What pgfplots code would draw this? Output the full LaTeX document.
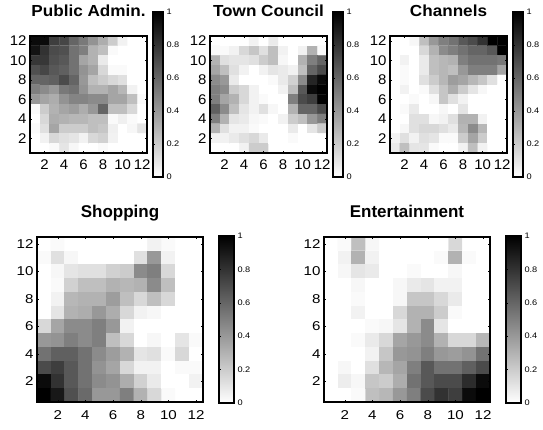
\documentclass[border=0pt]{standalone}
\usepackage{fontspec}
\setmainfont{Liberation Sans}
\newfontfamily\topfont[FakeStretch=1.07]{Liberation Sans}
\newfontfamily\botfont[FakeStretch=1.18]{Liberation Sans}
\newfontfamily\cbfont[FakeStretch=1.15]{Liberation Sans}
\usepackage{pgfplots}
\pgfplotsset{compat=1.18}
\pgfplotsset{
  hm/.style={scale only axis, anchor=south west,
    xmin=0.5,xmax=12.5,ymin=0.5,ymax=12.5, enlargelimits=false,
    xtick={2,4,...,12}, ytick={2,4,...,12},
    tick align=inside, major tick length=2pt, axis on top,
    axis line style={line width=1.1pt}, tick style={line width=0.5pt,black},
    colormap={rgray}{gray(0cm)=(1); gray(1cm)=(0)},
    point meta min=0, point meta max=1,
    /pgf/number format/assume math mode=true,
    colorbar, colorbar shift/.style={},
  },
  top/.style={hm, width=117pt, height=117pt,
    tick label style={font=\topfont\fontsize{14}{14}\selectfont},
    xticklabel style={yshift=-3pt},
    title style={at={(0.5,1)}, anchor=base, yshift=13pt, font=\topfont\bfseries\fontsize{16}{16}\selectfont},
    colorbar style={scale only axis, at={(parent axis.south east)}, anchor=south west,
      xshift=6pt, yshift=-24pt, width=10pt, height=165pt,
      ytick={0,0.2,...,1}, tick align=inside, major tick length=1.5pt,
      axis line style={line width=1.1pt},
      /pgf/number format/assume math mode=true,
      yticklabel style={font=\cbfont\fontsize{8}{8}\selectfont}},
  },
  bot/.style={hm, width=166pt, height=165pt,
    tick label style={font=\botfont\fontsize{12.8}{12.8}\selectfont},
    xticklabel style={yshift=-5pt},
    title style={at={(0.5,1)}, anchor=base, yshift=13pt, font=\bfseries\fontsize{17}{17}\selectfont},
    colorbar style={scale only axis, at={(parent axis.south east)}, anchor=south west,
      xshift=16pt, yshift=-1pt, width=15pt, height=167pt,
      ytick={0,0.2,...,1}, tick align=inside, major tick length=1.5pt,
      axis line style={line width=1.1pt},
      /pgf/number format/assume math mode=true,
      yticklabel style={font=\cbfont\fontsize{8}{8}\selectfont}},
  },
}
\begin{document}
\begin{tikzpicture}
\path[use as bounding box] (0,0) rectangle (543pt,430pt);
% Public Admin.
\begin{axis}[top, at={(30pt,277pt)}, title={Public Admin.}]
\addplot[matrix plot*, mesh/cols=12, point meta=\thisrow{c}] table[row sep=\\]{x y c\\
1 12 .95\\2 12 .95\\3 12 .75\\4 12 .72\\5 12 .6\\6 12 .52\\7 12 .42\\8 12 .32\\9 12 .2\\10 12 .05\\11 12 0\\12 12 0\\
1 11 .92\\2 11 .8\\3 11 .7\\4 11 .68\\5 11 .55\\6 11 .5\\7 11 .3\\8 11 .25\\9 11 .02\\10 11 0\\11 11 0\\12 11 0\\
1 10 .78\\2 10 .78\\3 10 .68\\4 10 .65\\5 10 .55\\6 10 .35\\7 10 .3\\8 10 .08\\9 10 0\\10 10 0\\11 10 0\\12 10 0\\
1 9 .68\\2 9 .72\\3 9 .65\\4 9 .62\\5 9 .55\\6 9 .42\\7 9 .35\\8 9 .15\\9 9 .02\\10 9 .02\\11 9 0\\12 9 0\\
1 8 .6\\2 8 .6\\3 8 .62\\4 8 .7\\5 8 .6\\6 8 .4\\7 8 .25\\8 8 .2\\9 8 .15\\10 8 .12\\11 8 0\\12 8 0\\
1 7 .5\\2 7 .45\\3 7 .4\\4 7 .52\\5 7 .55\\6 7 .42\\7 7 .3\\8 7 .3\\9 7 .35\\10 7 .28\\11 7 .05\\12 7 0\\
1 6 .4\\2 6 .35\\3 6 .32\\4 6 .42\\5 6 .48\\6 6 .48\\7 6 .45\\8 6 .45\\9 6 .35\\10 6 .35\\11 6 .25\\12 6 .02\\
1 5 .02\\2 5 .2\\3 5 .3\\4 5 .35\\5 5 .38\\6 5 .32\\7 5 .4\\8 5 .6\\9 5 .25\\10 5 .25\\11 5 .15\\12 5 0\\
1 4 0\\2 4 .15\\3 4 .32\\4 4 .3\\5 4 .28\\6 4 .28\\7 4 .25\\8 4 .25\\9 4 .02\\10 4 .06\\11 4 .02\\12 4 0\\
1 3 .02\\2 3 .12\\3 3 .35\\4 3 .2\\5 3 .2\\6 3 .2\\7 3 .25\\8 3 .22\\9 3 .06\\10 3 0\\11 3 .03\\12 3 .1\\
1 2 0\\2 2 .05\\3 2 .15\\4 2 .12\\5 2 .1\\6 2 .05\\7 2 .15\\8 2 .18\\9 2 .05\\10 2 0\\11 2 0\\12 2 0\\
1 1 0\\2 1 0\\3 1 .02\\4 1 .1\\5 1 .03\\6 1 0\\7 1 0\\8 1 .02\\9 1 0\\10 1 0\\11 1 0\\12 1 0\\
};
\end{axis}
% Town Council
\begin{axis}[top, at={(210pt,277pt)}, title={Town Council}]
\addplot[matrix plot*, mesh/cols=12, point meta=\thisrow{c}] table[row sep=\\]{x y c\\
1 12 0\\2 12 0\\3 12 0\\4 12 0\\5 12 .05\\6 12 0\\7 12 .08\\8 12 0\\9 12 0\\10 12 0\\11 12 0\\12 12 0\\
1 11 .02\\2 11 .02\\3 11 .05\\4 11 .15\\5 11 .22\\6 11 .12\\7 11 .25\\8 11 .05\\9 11 0\\10 11 .05\\11 11 .3\\12 11 .02\\
1 10 .3\\2 10 .12\\3 10 .1\\4 10 .1\\5 10 .12\\6 10 .2\\7 10 .25\\8 10 .03\\9 10 0\\10 10 .3\\11 10 .5\\12 10 .6\\
1 9 .35\\2 9 .25\\3 9 .12\\4 9 .05\\5 9 0\\6 9 .05\\7 9 .1\\8 9 .08\\9 9 .05\\10 9 .25\\11 9 .6\\12 9 .7\\
1 8 .45\\2 8 .4\\3 8 .08\\4 8 0\\5 8 0\\6 8 0\\7 8 .02\\8 8 .08\\9 8 .18\\10 8 .45\\11 8 .85\\12 8 .95\\
1 7 .5\\2 7 .45\\3 7 .2\\4 7 .15\\5 7 .05\\6 7 0\\7 7 0\\8 7 .05\\9 7 .25\\10 7 .65\\11 7 .95\\12 7 1\\
1 6 .5\\2 6 .35\\3 6 .3\\4 6 .15\\5 6 .05\\6 6 .02\\7 6 0\\8 6 0\\9 6 .5\\10 6 .7\\11 6 .75\\12 6 .98\\
1 5 .62\\2 5 .45\\3 5 .25\\4 5 .1\\5 5 .05\\6 5 .12\\7 5 .03\\8 5 0\\9 5 .3\\10 5 .6\\11 5 .6\\12 5 .7\\
1 4 .5\\2 4 .3\\3 4 .1\\4 4 .08\\5 4 .03\\6 4 .02\\7 4 0\\8 4 .05\\9 4 .2\\10 4 .25\\11 4 .4\\12 4 .5\\
1 3 .3\\2 3 .12\\3 3 .05\\4 3 .05\\5 3 .02\\6 3 0\\7 3 0\\8 3 0\\9 3 .08\\10 3 0\\11 3 .1\\12 3 .2\\
1 2 .05\\2 2 .05\\3 2 .08\\4 2 .12\\5 2 .15\\6 2 .08\\7 2 0\\8 2 0\\9 2 .02\\10 2 0\\11 2 0\\12 2 0\\
1 1 0\\2 1 0\\3 1 0\\4 1 .05\\5 1 .2\\6 1 .2\\7 1 0\\8 1 0\\9 1 0\\10 1 0\\11 1 0\\12 1 0\\
};
\end{axis}
% Channels
\begin{axis}[top, at={(390pt,277pt)}, title={Channels}]
\addplot[matrix plot*, mesh/cols=12, point meta=\thisrow{c}] table[row sep=\\]{x y c\\
1 12 0\\2 12 0\\3 12 .03\\4 12 .25\\5 12 .4\\6 12 .5\\7 12 .55\\8 12 .65\\9 12 .7\\10 12 .8\\11 12 1\\12 12 1\\
1 11 0\\2 11 0\\3 11 0\\4 11 .15\\5 11 .3\\6 11 .45\\7 11 .5\\8 11 .55\\9 11 .6\\10 11 .6\\11 11 .65\\12 11 1\\
1 10 0\\2 10 .05\\3 10 0\\4 10 .08\\5 10 .25\\6 10 .28\\7 10 .3\\8 10 .5\\9 10 .55\\10 10 .55\\11 10 .55\\12 10 .52\\
1 9 0\\2 9 .02\\3 9 0\\4 9 .08\\5 9 .25\\6 9 .28\\7 9 .25\\8 9 .4\\9 9 .5\\10 9 .5\\11 9 .5\\12 9 .35\\
1 8 0\\2 8 .02\\3 8 0\\4 8 .12\\5 8 .2\\6 8 .28\\7 8 .38\\8 8 .35\\9 8 .28\\10 8 .22\\11 8 .12\\12 8 0\\
1 7 0\\2 7 .05\\3 7 0\\4 7 .02\\5 7 .12\\6 7 .22\\7 7 .32\\8 7 .2\\9 7 .1\\10 7 .03\\11 7 0\\12 7 0\\
1 6 0\\2 6 0\\3 6 .02\\4 6 0\\5 6 .03\\6 6 .22\\7 6 .12\\8 6 .05\\9 6 0\\10 6 0\\11 6 0\\12 6 0\\
1 5 0\\2 5 .02\\3 5 .08\\4 5 0\\5 5 0\\6 5 .03\\7 5 0\\8 5 .1\\9 5 0\\10 5 0\\11 5 0\\12 5 0\\
1 4 0\\2 4 0\\3 4 .12\\4 4 .12\\5 4 .03\\6 4 .05\\7 4 .12\\8 4 .3\\9 4 .3\\10 4 .05\\11 4 0\\12 4 0\\
1 3 0\\2 3 .03\\3 3 .12\\4 3 .15\\5 3 .15\\6 3 .12\\7 3 .08\\8 3 .28\\9 3 .45\\10 3 .28\\11 3 0\\12 3 0\\
1 2 .05\\2 2 .12\\3 2 .05\\4 2 .12\\5 2 .1\\6 2 .02\\7 2 .02\\8 2 .2\\9 2 .35\\10 2 .2\\11 2 0\\12 2 0\\
1 1 .08\\2 1 .25\\3 1 .1\\4 1 .1\\5 1 .02\\6 1 0\\7 1 0\\8 1 .05\\9 1 .25\\10 1 .05\\11 1 0\\12 1 0\\
};
\end{axis}
% Shopping
\begin{axis}[bot, at={(37pt,28pt)}, title={Shopping}]
\addplot[matrix plot*, mesh/cols=12, point meta=\thisrow{c}] table[row sep=\\]{x y c\\
1 12 0\\2 12 .02\\3 12 0\\4 12 0\\5 12 0\\6 12 0\\7 12 0\\8 12 0\\9 12 .05\\10 12 .02\\11 12 0\\12 12 0\\
1 11 .02\\2 11 .12\\3 11 .03\\4 11 0\\5 11 0\\6 11 0\\7 11 0\\8 11 .12\\9 11 .4\\10 11 .05\\11 11 0\\12 11 0\\
1 10 0\\2 10 .03\\3 10 .1\\4 10 .12\\5 10 .12\\6 10 .18\\7 10 .2\\8 10 .45\\9 10 .5\\10 10 .15\\11 10 0\\12 10 0\\
1 9 0\\2 9 .02\\3 9 .18\\4 9 .25\\5 9 .25\\6 9 .3\\7 9 .28\\8 9 .3\\9 9 .45\\10 9 .25\\11 9 0\\12 9 0\\
1 8 0\\2 8 .05\\3 8 .28\\4 8 .3\\5 8 .3\\6 8 .38\\7 8 .25\\8 8 .15\\9 8 .25\\10 8 .15\\11 8 0\\12 8 0\\
1 7 0\\2 7 .1\\3 7 .3\\4 7 .32\\5 7 .4\\6 7 .32\\7 7 .15\\8 7 .05\\9 7 .03\\10 7 0\\11 7 0\\12 7 0\\
1 6 .15\\2 6 .35\\3 6 .45\\4 6 .45\\5 6 .5\\6 6 .4\\7 6 .05\\8 6 0\\9 6 0\\10 6 0\\11 6 0\\12 6 0\\
1 5 .4\\2 5 .42\\3 5 .5\\4 5 .45\\5 5 .5\\6 5 .25\\7 5 .15\\8 5 0\\9 5 .03\\10 5 0\\11 5 .1\\12 5 .02\\
1 4 .55\\2 4 .62\\3 4 .62\\4 4 .55\\5 4 .45\\6 4 .38\\7 4 .3\\8 4 .1\\9 4 .12\\10 4 .02\\11 4 .15\\12 4 0\\
1 3 .7\\2 3 .75\\3 3 .65\\4 3 .55\\5 3 .42\\6 3 .35\\7 3 .15\\8 3 .05\\9 3 .05\\10 3 0\\11 3 .02\\12 3 .02\\
1 2 .95\\2 2 .8\\3 2 .65\\4 2 .55\\5 2 .45\\6 2 .42\\7 2 .32\\8 2 .18\\9 2 .08\\10 2 0\\11 2 0\\12 2 .05\\
1 1 1\\2 1 .9\\3 1 .68\\4 1 .58\\5 1 .4\\6 1 .4\\7 1 .5\\8 1 .3\\9 1 .15\\10 1 .02\\11 1 0\\12 1 0\\
};
\end{axis}
% Entertainment
\begin{axis}[bot, at={(324pt,28pt)}, title={Entertainment}]
\addplot[matrix plot*, mesh/cols=12, point meta=\thisrow{c}] table[row sep=\\]{x y c\\
1 12 0\\2 12 .02\\3 12 .25\\4 12 .03\\5 12 0\\6 12 0\\7 12 0\\8 12 0\\9 12 0\\10 12 .15\\11 12 0\\12 12 0\\
1 11 0\\2 11 .05\\3 11 .3\\4 11 .05\\5 11 0\\6 11 0\\7 11 0\\8 11 0\\9 11 .02\\10 11 .3\\11 11 .02\\12 11 0\\
1 10 0\\2 10 .03\\3 10 .1\\4 10 .08\\5 10 0\\6 10 0\\7 10 .02\\8 10 0\\9 10 0\\10 10 .03\\11 10 0\\12 10 0\\
1 9 0\\2 9 0\\3 9 .03\\4 9 0\\5 9 0\\6 9 .03\\7 9 .08\\8 9 .1\\9 9 .05\\10 9 .05\\11 9 0\\12 9 0\\
1 8 0\\2 8 0\\3 8 .02\\4 8 0\\5 8 0\\6 8 .03\\7 8 .22\\8 8 .22\\9 8 .15\\10 8 .08\\11 8 0\\12 8 0\\
1 7 0\\2 7 0\\3 7 .05\\4 7 0\\5 7 0\\6 7 .15\\7 7 .3\\8 7 .3\\9 7 .2\\10 7 .02\\11 7 0\\12 7 0\\
1 6 0\\2 6 0\\3 6 0\\4 6 .02\\5 6 .03\\6 6 .1\\7 6 .3\\8 6 .45\\9 6 .1\\10 6 0\\11 6 0\\12 6 0\\
1 5 0\\2 5 0\\3 5 .02\\4 5 .08\\5 5 .15\\6 5 .35\\7 5 .4\\8 5 .45\\9 5 .3\\10 5 .15\\11 5 .15\\12 5 .28\\
1 4 0\\2 4 0\\3 4 0\\4 4 .05\\5 4 .22\\6 4 .4\\7 4 .42\\8 4 .5\\9 4 .4\\10 4 .38\\11 4 .42\\12 4 .55\\
1 3 0\\2 3 .03\\3 3 0\\4 3 .12\\5 3 .28\\6 3 .35\\7 3 .5\\8 3 .65\\9 3 .55\\10 3 .55\\11 3 .62\\12 3 .7\\
1 2 0\\2 2 .07\\3 2 .03\\4 2 .22\\5 2 .2\\6 2 .32\\7 2 .55\\8 2 .65\\9 2 .7\\10 2 .7\\11 2 .82\\12 2 .95\\
1 1 0\\2 1 0\\3 1 .02\\4 1 .25\\5 1 .28\\6 1 .4\\7 1 .5\\8 1 .7\\9 1 .8\\10 1 .75\\11 1 .95\\12 1 1\\
};
\end{axis}
\end{tikzpicture}
\end{document}
